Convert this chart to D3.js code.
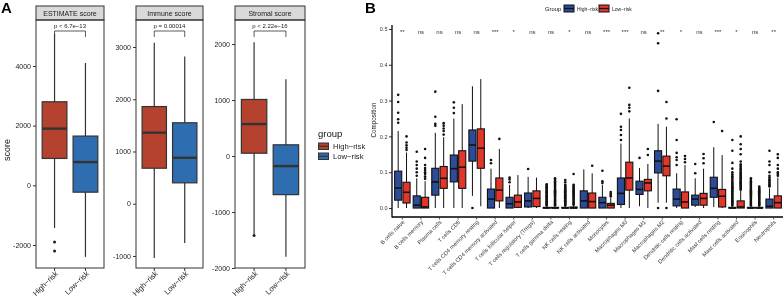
<!DOCTYPE html>
<html>
<head>
<meta charset="utf-8">
<script src="https://cdn.jsdelivr.net/npm/d3@7"></script>
<style>
  body { margin: 0; background: #fff; }
  svg { font-family: "Liberation Sans", Arial, sans-serif; }
  svg text { -webkit-font-smoothing: antialiased; }
</style>
</head>
<body>
<svg id="chart" width="784" height="298" style="will-change: transform"></svg>
<script>
// ---------- panel A data ----------
const riskGroups = ["High−risk", "Low−risk"];
const scoreNames = ["ESTIMATE score", "Immune score", "Stromal score"];
const scorePvals = ["p < 6.7e−13", "p = 0.00014", "p < 2.22e−16"];
// each box: [whiskerLow, q1, median, q3, whiskerHigh]
const estimateBoxes = [[-1430, 900, 1900, 2800, 5080], [-2400, -230, 780, 1650, 4100]];
const immuneBoxes   = [[-1040, 680, 1360, 1860, 3080], [-750, 400, 880, 1550, 2820]];
const stromalBoxes  = [[-1400, 50, 570, 1010, 2030], [-1800, -690, -180, 200, 1370]];
const estimateOut = [[-1900, -2200], []];
const immuneOut   = [[], []];
const stromalOut  = [[-1420], []];
const scoreTicks = [[-2000, 0, 2000, 4000], [-1000, 0, 1000, 2000, 3000], [-2000, -1000, 0, 1000, 2000]];
const scoreDomains = [[-2772, 5541], [-1230, 3517], [-2000, 2429]];

// ---------- panel B data ----------
const cells = ["B cells naive", "B cells memory", "Plasma cells", "T cells CD8",
  "T cells CD4 memory resting", "T cells CD4 memory activated", "T cells follicular helper",
  "T cells regulatory (Tregs)", "T cells gamma delta", "NK cells resting", "NK cells activated",
  "Monocytes", "Macrophages M0", "Macrophages M1", "Macrophages M2", "Dendritic cells resting",
  "Dendritic cells activated", "Mast cells resting", "Mast cells activated", "Eosinophils", "Neutrophils"];
const sigLabels = ["**", "ns", "ns", "ns", "ns", "***", "*", "ns", "ns", "*", "ns",
  "***", "***", "ns", "**", "*", "ns", "***", "*", "ns", "**"];
const highBox = [
  [0, 0.022, 0.056, 0.103, 0.215], [0, 0, 0.008, 0.034, 0.083], [0, 0.036, 0.073, 0.111, 0.21],
  [0, 0.073, 0.11, 0.148, 0.25], [0.034, 0.131, 0.176, 0.218, 0.34], [0, 0, 0.025, 0.053, 0.11],
  [0, 0, 0.012, 0.03, 0.065], [0, 0.003, 0.02, 0.042, 0.087], [0, 0, 0, 0.002, 0.005],
  [0, 0, 0, 0.002, 0.005], [0, 0, 0.02, 0.048, 0.108], [0, 0, 0.015, 0.03, 0.065],
  [0, 0.01, 0.041, 0.084, 0.18], [0.005, 0.038, 0.052, 0.075, 0.112], [0.015, 0.098, 0.131, 0.16, 0.235],
  [0, 0.006, 0.025, 0.053, 0.097], [0.003, 0.008, 0.025, 0.036, 0.083], [0.003, 0.03, 0.055, 0.086, 0.17],
  [0, 0, 0, 0.002, 0.005], [0, 0, 0, 0.002, 0.005], [0, 0, 0.005, 0.025, 0.055]];
const lowBox = [
  [0, 0.014, 0.044, 0.072, 0.155], [0, 0, 0.003, 0.03, 0.075], [0, 0.055, 0.083, 0.116, 0.198],
  [0, 0.055, 0.114, 0.16, 0.29], [0.005, 0.111, 0.167, 0.221, 0.36], [0, 0.02, 0.05, 0.084, 0.165],
  [0, 0.002, 0.017, 0.036, 0.092], [0, 0.004, 0.027, 0.048, 0.085], [0, 0, 0, 0.002, 0.006],
  [0, 0, 0, 0.003, 0.007], [0, 0, 0.018, 0.042, 0.097], [0, 0, 0.008, 0.013, 0.03],
  [0, 0.05, 0.084, 0.128, 0.25], [0, 0.048, 0.07, 0.08, 0.123], [0.015, 0.09, 0.117, 0.145, 0.227],
  [0, 0, 0.017, 0.045, 0.12], [0, 0.008, 0.027, 0.041, 0.11], [0, 0.003, 0.033, 0.052, 0.148],
  [0, 0, 0.003, 0.02, 0.048], [0, 0, 0, 0.002, 0.005], [0, 0, 0.015, 0.034, 0.085]];
const highOut = [
  [0.238, 0.248, 0.266, 0.296, 0.316],
  [0.09, 0.1, 0.11, 0.12, 0.13, 0.157],
  [0.23, 0.235, 0.255, 0.325],
  [0.265, 0.28, 0.295],
  [0.0],
  [0.125, 0.134],
  [0.072, 0.08, 0.085],
  [0.109],
  [0.007, 0.009, 0.011, 0.013, 0.016, 0.018, 0.02, 0.023, 0.025, 0.028, 0.031, 0.033, 0.036, 0.039,
   0.042, 0.044, 0.047, 0.05, 0.053, 0.056, 0.058, 0.061, 0.064, 0.066],
  [0.007, 0.009, 0.012, 0.014, 0.017, 0.019, 0.022, 0.025, 0.027, 0.03, 0.033, 0.036, 0.038, 0.041,
   0.044, 0.047, 0.05, 0.053, 0.056, 0.059, 0.062, 0.065, 0.072, 0.078],
  [],
  [0.07, 0.075, 0.104],
  [0.19, 0.204, 0.218, 0.227, 0.263],
  [0.14],
  [0.0, 0.327, 0.46, 0.488],
  [0.12, 0.134, 0.142, 0.154, 0.19, 0.248],
  [0.097, 0.123],
  [0.24],
  [0.007, 0.01, 0.013, 0.016, 0.019, 0.022, 0.025, 0.028, 0.031, 0.034, 0.037, 0.04, 0.043, 0.046,
   0.049, 0.052, 0.055, 0.058, 0.061, 0.064, 0.067, 0.07, 0.073, 0.077, 0.081, 0.085, 0.089, 0.094,
   0.1, 0.11, 0.126, 0.16, 0.19],
  [0.007, 0.009, 0.012, 0.015, 0.017, 0.02, 0.023, 0.026, 0.029, 0.032, 0.035, 0.038, 0.041, 0.044,
   0.047, 0.05, 0.053, 0.056, 0.059, 0.062, 0.065, 0.068, 0.071, 0.074, 0.078, 0.083],
  [0.06, 0.063, 0.066, 0.07, 0.073, 0.077, 0.08, 0.085, 0.09, 0.1, 0.12, 0.13, 0.16]];
const lowOut = [
  [0.162, 0.168, 0.175, 0.183, 0.2],
  [0.082, 0.088, 0.095, 0.1, 0.106, 0.112, 0.12, 0.14, 0.165],
  [0.205, 0.215, 0.222, 0.23, 0.237],
  [],
  [],
  [0.193],
  [],
  [],
  [0.008, 0.01, 0.013, 0.015, 0.018, 0.021, 0.023, 0.026, 0.029, 0.032, 0.035, 0.038, 0.041, 0.044,
   0.047, 0.05, 0.053, 0.056, 0.059, 0.062, 0.065, 0.068, 0.071, 0.075, 0.079, 0.083],
  [0.009, 0.011, 0.014, 0.017, 0.02, 0.023, 0.026, 0.029, 0.032, 0.035, 0.038, 0.041, 0.044, 0.047,
   0.05, 0.053, 0.056, 0.059, 0.062, 0.065, 0.095],
  [0.118],
  [0.033, 0.037, 0.04, 0.045],
  [0.27, 0.28, 0.288, 0.336],
  [0.148, 0.165],
  [0.0, 0.25, 0.296],
  [0.128, 0.137, 0.145],
  [0.125, 0.139, 0.151],
  [0.215],
  [0.051, 0.054, 0.057, 0.06, 0.063, 0.066, 0.069, 0.072, 0.075, 0.078, 0.081, 0.084, 0.087, 0.09,
   0.093, 0.096, 0.1, 0.104, 0.108, 0.112, 0.117, 0.122, 0.13, 0.15, 0.165, 0.178, 0.2],
  [0.007, 0.009, 0.012, 0.014, 0.017, 0.02, 0.023, 0.026, 0.029, 0.032, 0.035, 0.038, 0.041, 0.044,
   0.047, 0.05, 0.053, 0.056, 0.06],
  [0.09, 0.095, 0.1, 0.11, 0.12, 0.14, 0.15]];
const compTicks = [0, 0.1, 0.2, 0.3, 0.4, 0.5];

const svg = d3.select("#chart");

// ================= PANEL A =================
const colA = ["#B5412F", "#2E6DB0"];
const facetX = [[36, 104], [136, 203], [235, 305]];
const panelTop = 20, panelBottom = 268, stripTop = 6;
const allBoxes = [estimateBoxes, immuneBoxes, stromalBoxes];
const allOut = [estimateOut, immuneOut, stromalOut];

svg.append("text").attr("x", 1).attr("y", 13).attr("font-size", 15).attr("font-weight", "bold").text("A");
svg.append("text").attr("transform", "translate(10,150) rotate(-90)")
  .attr("text-anchor", "middle").attr("font-size", 9).attr("fill", "#111").text("score");

scoreNames.forEach((name, fi) => {
  const [x0, x1] = facetX[fi];
  const g = svg.append("g");
  const x = d3.scalePoint().domain(riskGroups).range([x0, x1]).padding(0.6);
  const y = d3.scaleLinear().domain(scoreDomains[fi]).range([panelBottom, panelTop]);
  const bw = x.step() * 0.8;

  // strip
  g.append("rect").attr("x", x0).attr("y", stripTop).attr("width", x1 - x0).attr("height", panelTop - stripTop)
    .attr("fill", "#D9D9D9").attr("stroke", "#333").attr("stroke-width", 1);
  g.append("text").attr("x", (x0 + x1) / 2).attr("y", 16.2).attr("text-anchor", "middle")
    .attr("font-size", 7).attr("fill", "#1a1a1a").text(name);

  // boxes
  allBoxes[fi].forEach((b, gi) => {
    const cx = x(riskGroups[gi]);
    g.append("line").attr("x1", cx).attr("x2", cx).attr("y1", y(b[0])).attr("y2", y(b[4]))
      .attr("stroke", "#333").attr("stroke-width", 1.2);
    g.append("rect").attr("x", cx - bw / 2).attr("y", y(b[3])).attr("width", bw).attr("height", y(b[1]) - y(b[3]))
      .attr("fill", colA[gi]).attr("stroke", "#333").attr("stroke-width", 1.2);
    g.append("line").attr("x1", cx - bw / 2).attr("x2", cx + bw / 2).attr("y1", y(b[2])).attr("y2", y(b[2]))
      .attr("stroke", "#333").attr("stroke-width", 2.4);
    allOut[fi][gi].forEach(v => {
      g.append("circle").attr("cx", cx).attr("cy", y(v)).attr("r", 1.5).attr("fill", "#222");
    });
  });

  // p-value bracket
  const xa = x(riskGroups[0]), xb = x(riskGroups[1]);
  g.append("path").attr("d", `M${xa},${panelTop + 17}V${panelTop + 11}H${xb}V${panelTop + 17}`)
    .attr("fill", "none").attr("stroke", "#333").attr("stroke-width", 0.8);
  g.append("text").attr("x", (xa + xb) / 2).attr("y", panelTop + 8).attr("text-anchor", "middle")
    .attr("font-size", 6).attr("fill", "#222").text(scorePvals[fi]);

  // panel border
  g.append("rect").attr("x", x0).attr("y", panelTop).attr("width", x1 - x0).attr("height", panelBottom - panelTop)
    .attr("fill", "none").attr("stroke", "#333").attr("stroke-width", 1);

  // y axis
  const ya = g.append("g").attr("transform", `translate(${x0},0)`)
    .call(d3.axisLeft(y).tickValues(scoreTicks[fi]).tickFormat(d => String(d)).tickSize(3).tickPadding(2));
  ya.select(".domain").remove();
  ya.selectAll("line").attr("stroke", "#333");
  ya.selectAll("text").attr("font-size", 7).attr("fill", "#222").attr("font-family", null);

  // x axis
  riskGroups.forEach(gr => {
    const cx = x(gr);
    g.append("line").attr("x1", cx).attr("x2", cx).attr("y1", panelBottom).attr("y2", panelBottom + 3)
      .attr("stroke", "#333");
    g.append("text").attr("transform", `translate(${cx + 4},${panelBottom + 6}) rotate(-45)`)
      .attr("text-anchor", "end").attr("font-size", 7.6).attr("fill", "#222").text(gr);
  });
});

// legend A
const legA = svg.append("g").attr("transform", "translate(318,0)");
legA.append("text").attr("x", 0).attr("y", 137).attr("font-size", 9.5).attr("fill", "#111").text("group");
riskGroups.forEach((gr, i) => {
  const ky = 143 + i * 10;
  legA.append("rect").attr("x", 0.5).attr("y", ky).attr("width", 10).attr("height", 6.5)
    .attr("fill", colA[i]).attr("stroke", "#333").attr("stroke-width", 1);
  legA.append("line").attr("x1", 0.5).attr("x2", 10.5).attr("y1", ky + 3.25).attr("y2", ky + 3.25)
    .attr("stroke", "#333").attr("stroke-width", 1.2);
  legA.append("text").attr("x", 15).attr("y", ky + 6).attr("font-size", 7.7).attr("fill", "#222").text(gr);
});

// ================= PANEL B =================
const colB = ["#2C4C98", "#E4352A"];
const bLeft = 392, bRight = 783, bTop = 25, bBottom = 217;
svg.append("text").attr("x", 365).attr("y", 13).attr("font-size", 15).attr("font-weight", "bold").text("B");

const xB = d3.scaleBand().domain(cells).range([394, 782]).paddingInner(0.1).paddingOuter(0);
const xIn = d3.scaleBand().domain([0, 1]).range([0, xB.bandwidth()]);
const yB = d3.scaleLinear().domain([-0.025, 0.511]).range([bBottom, bTop]);
const bwB = xIn.bandwidth() * 0.85;
const gB = svg.append("g");

cells.forEach((c, ci) => {
  [highBox[ci], lowBox[ci]].forEach((b, gi) => {
    const cx = xB(c) + xIn(gi) + xIn.bandwidth() / 2;
    gB.append("line").attr("x1", cx).attr("x2", cx).attr("y1", yB(b[0])).attr("y2", yB(b[4]))
      .attr("stroke", "#111").attr("stroke-width", 1);
    const outs = gi === 0 ? highOut[ci] : lowOut[ci];
    outs.forEach(v => {
      gB.append("circle").attr("cx", cx).attr("cy", yB(v)).attr("r", 1.3).attr("fill", "#111");
    });
    gB.append("rect").attr("x", cx - bwB / 2).attr("y", yB(b[3])).attr("width", bwB)
      .attr("height", Math.max(0.5, yB(b[1]) - yB(b[3])))
      .attr("fill", colB[gi]).attr("stroke", "#111").attr("stroke-width", 1.1);
    gB.append("line").attr("x1", cx - bwB / 2).attr("x2", cx + bwB / 2).attr("y1", yB(b[2])).attr("y2", yB(b[2]))
      .attr("stroke", "#111").attr("stroke-width", 1.6);
  });
  gB.append("text").attr("x", xB(c) + xB.bandwidth() / 2).attr("y", 34).attr("text-anchor", "middle")
    .attr("font-size", 6).attr("fill", "#333").text(sigLabels[ci]);
});

// axes B
const yAxB = svg.append("g").attr("transform", `translate(${bLeft},0)`)
  .call(d3.axisLeft(yB).tickValues(compTicks).tickFormat(d3.format(".1f")).tickSize(3).tickPadding(1.5));
yAxB.select(".domain").remove();
yAxB.selectAll("line").attr("stroke", "#333");
yAxB.selectAll("text").attr("font-size", 5.5).attr("fill", "#333").attr("font-family", null);
svg.append("line").attr("x1", bLeft).attr("x2", bLeft).attr("y1", bTop).attr("y2", bBottom + 0.6)
  .attr("stroke", "#000").attr("stroke-width", 1.3);
svg.append("line").attr("x1", bLeft).attr("x2", bRight).attr("y1", bBottom).attr("y2", bBottom)
  .attr("stroke", "#000").attr("stroke-width", 1.3);
cells.forEach(c => {
  const cx = xB(c) + xB.bandwidth() / 2;
  svg.append("line").attr("x1", cx).attr("x2", cx).attr("y1", bBottom).attr("y2", bBottom + 2.5)
    .attr("stroke", "#333").attr("stroke-width", 0.8);
  svg.append("text").attr("transform", `translate(${cx + 2.5},${bBottom + 5.5}) rotate(-45)`)
    .attr("text-anchor", "end").attr("font-size", 5.6).attr("fill", "#333").text(c);
});
svg.append("text").attr("transform", "translate(376,120) rotate(-90)")
  .attr("text-anchor", "middle").attr("font-size", 6.3).attr("fill", "#111").text("Composition");

// legend B
const legB = svg.append("g");
legB.append("text").attr("x", 545).attr("y", 11).attr("font-size", 5.8).attr("fill", "#111").text("Group");
[["High−risk", 564, 577], ["Low−risk", 599, 612]].forEach((d, i) => {
  legB.append("rect").attr("x", d[1]).attr("y", 5).attr("width", 10).attr("height", 7)
    .attr("fill", colB[i]).attr("stroke", "#111").attr("stroke-width", 1);
  legB.append("line").attr("x1", d[1]).attr("x2", d[1] + 10).attr("y1", 8.5).attr("y2", 8.5)
    .attr("stroke", "#111").attr("stroke-width", 1.2);
  legB.append("text").attr("x", d[2]).attr("y", 10.5).attr("font-size", 5).attr("fill", "#222").text(d[0]);
});
</script>
</body>
</html>
